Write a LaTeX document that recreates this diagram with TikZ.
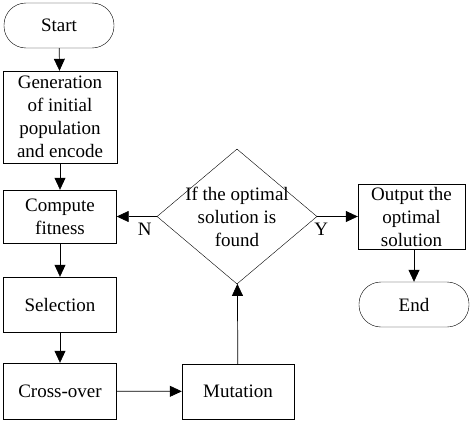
\documentclass[tikz,border=0pt]{standalone}
\usepackage{fontspec}
\setmainfont{Liberation Serif}
\usetikzlibrary{shapes.geometric, arrows.meta}

\begin{document}
\begin{tikzpicture}[x=1pt, y=1pt,
    every node/.style={font=\fontsize{19}{23}\selectfont, text=black},
    term/.style={draw, rounded corners=22pt, minimum width=110pt, minimum height=45pt, inner sep=0pt},
    proc/.style={draw, minimum width=113pt, inner sep=0pt, align=center},
    dec/.style={draw, diamond, minimum width=160pt, minimum height=135pt, inner sep=0pt},
    arr/.style={-{Triangle[length=12pt, width=11pt]}, line width=0.7pt}]
  \useasboundingbox (0,0) rectangle (474,-423);

  % Bloques de la izquierda
  \node[term] (start) at (59,-25.5) {Start};
  \node[proc, minimum height=92pt, minimum width=114pt] (gen) at (60,-117)
    {Generation\\of initial\\population\\and encode};
  \node[proc, minimum height=53pt] (fit) at (60,-216.5) {Compute\\fitness};
  \node[proc, minimum height=55pt] (sel) at (60,-304.5) {Selection};
  \node[proc, minimum height=56pt] (cross) at (60,-391) {Cross-over};

  % Mutacion y decision
  \node[proc, minimum height=55pt, minimum width=112pt] (mut) at (238,-391.5) {Mutation};
  \node[dec] (dec) at (237,-216.5) {};
  \node[align=center] (dectext) at (237,-217) {If the optimal\\solution is\\found};

  % Bloques de la derecha
  \node[proc, minimum height=65pt, minimum width=107pt] (out) at (411.5,-216.5)
    {Output the\\optimal\\solution};
  \node[term] (end) at (414,-304.5) {End};

  % Flechas
  \draw[arr] (start) -- (gen);
  \draw[arr] (gen) -- (fit);
  \draw[arr] (fit) -- (sel);
  \draw[arr] (sel) -- (cross);
  \draw[arr] (cross) -- (mut);
  \draw[arr] (mut) -- (dec);
  \draw[arr] (dec.west) -- node[pos=0.3, below=3pt] {N} (fit.east);
  \draw[arr] (dec.east) -- node[pos=0.1, below=3pt] {Y} (out.west);
  \draw[arr] (out.south -| end.north) -- (end);
\end{tikzpicture}
\end{document}
